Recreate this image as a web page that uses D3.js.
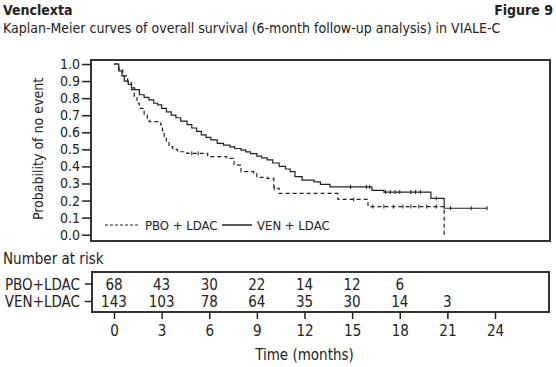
<!DOCTYPE html>
<meta charset="utf-8">
<script src="https://d3js.org/d3.v7.min.js"></script>
<style>
	body{
		margin:0;
		background:#fff;
		font-family:'Liberation Sans Narrow','DejaVu Sans Condensed','Arial Narrow',sans-serif;
	}
	svg text{ fill:#222; }
</style>
<div id="chart"></div>
<script>
	// months at which the number at risk is reported
	var riskTimes = [0,3,6,9,12,15,18,21,24]
	var xTicks = [0,3,6,9,12,15,18,21,24]
	var yTicks = [0,0.1,0.2,0.3,0.4,0.5,0.6,0.7,0.8,0.9,1.0]

	var groups = ["PBO+LDAC","VEN+LDAC"]
	var pboRisk = [68,43,30,22,14,12,6]
	var venRisk = [143,103,78,64,35,30,14,3]

	// KM steps: [months, survival]
	var pboSteps = [[0,1],[0.3,0.97],[0.55,0.93],[0.86,0.89],[1.1,0.85],[1.28,0.81],[1.45,0.77],[1.59,0.74],
		[1.9,0.70],[2.1,0.68],[2.22,0.662],[2.95,0.643],[3.05,0.61],[3.16,0.574],[3.3,0.54],[3.47,0.516],
		[3.7,0.50],[4.0,0.486],[4.6,0.477],[5.9,0.457],[7.1,0.447],[7.56,0.408],[8.0,0.369],[8.8,0.36],
		[9.0,0.336],[9.65,0.33],[10.07,0.272],[10.4,0.242],[14.1,0.207],[16.0,0.165],[20.8,0.0]]
	var venSteps = [[0,1],[0.3,0.96],[0.5,0.93],[0.65,0.90],[0.9,0.88],[1.1,0.86],[1.3,0.85],[1.6,0.82],
		[1.9,0.805],[2.2,0.79],[2.5,0.77],[2.75,0.76],[3.0,0.74],[3.3,0.72],[3.6,0.70],[3.9,0.685],
		[4.2,0.665],[4.6,0.645],[4.9,0.625],[5.2,0.605],[5.5,0.585],[5.8,0.57],[6.1,0.555],[6.5,0.535],
		[6.9,0.525],[7.3,0.515],[7.6,0.505],[8.0,0.495],[8.3,0.485],[8.6,0.475],[9.0,0.46],[9.3,0.45],
		[9.65,0.438],[10.0,0.42],[10.4,0.40],[10.8,0.385],[11.1,0.37],[11.4,0.34],[11.85,0.32],[12.6,0.31],
		[13.0,0.295],[13.6,0.28],[16.25,0.26],[17.0,0.25],[19.96,0.213],[20.8,0.155],[23.5,0.155]]
	var pboCensor = [4.9,5.3,10.1,15.1,16.3,17.0,17.6,18.2,18.7,19.2,19.7,20.3]
	var venCensor = [14.9,15.9,16.1,17.1,17.4,17.7,18.0,18.7,19.0,19.3,20.3,21.2,22.5,23.5]

	var W = 556, H = 367
	var FONT = "'Liberation Sans Narrow','DejaVu Sans Condensed','Arial Narrow',sans-serif"
	var svg = d3.select("#chart").append("svg").attr("width",W).attr("height",H)
		.style("font-family",FONT)

	var x = d3.scaleLinear().domain([0,24]).range([114,495])
	var y = d3.scaleLinear().domain([0,1]).range([234.7,64])

	// titles
	svg.append("text").text("Venclexta").attr("x",3).attr("y",15)
		.attr("font-size",14).attr("font-weight","bold")
	svg.append("text").text("Figure 9").attr("x",553).attr("y",15).attr("text-anchor","end")
		.attr("font-size",14).attr("font-weight","bold")
	svg.append("text").text("Kaplan-Meier curves of overall survival (6-month follow-up analysis) in VIALE-C")
		.attr("x",3).attr("y",33).attr("font-size",14)

	// plot frame
	svg.append("rect").attr("x",91).attr("y",60).attr("width",459).attr("height",181)
		.attr("fill","none").attr("stroke","#333").attr("stroke-width",2)

	var yAxis = d3.axisLeft(y).tickValues(yTicks).tickFormat(d3.format(".1f")).tickSize(9).tickPadding(2)
	var gy = svg.append("g").attr("transform","translate(91,0)").call(yAxis)
	gy.select(".domain").remove()
	gy.selectAll("line").attr("stroke","#222").attr("stroke-width",1.5)
	gy.selectAll("text").attr("font-size",14).style("font-family",FONT).attr("fill","#222")

	svg.append("text").text("Probability of no event")
		.attr("transform","translate(43,149) rotate(-90)").attr("text-anchor","middle")
		.attr("font-size",14)

	var line = d3.line().x(function(d){return x(d[0])}).y(function(d){return y(d[1])}).curve(d3.curveStepAfter)

	svg.append("path").datum(pboSteps).attr("d",line).attr("fill","none")
		.attr("stroke","#222").attr("stroke-width",1.2).attr("stroke-dasharray","4,3")
	svg.append("path").datum(venSteps).attr("d",line).attr("fill","none")
		.attr("stroke","#222").attr("stroke-width",1.2)

	// survival value at t for placing censor marks
	function survAt(steps,t){
		var s = steps[0][1]
		for(var i in steps){ if(steps[i][0]<=t){ s = steps[i][1] } }
		return s
	}
	svg.selectAll(".cp").data(pboCensor).enter().append("line")
		.attr("x1",function(d){return x(d)}).attr("x2",function(d){return x(d)})
		.attr("y1",function(d){return y(survAt(pboSteps,d))-2}).attr("y2",function(d){return y(survAt(pboSteps,d))+2})
		.attr("stroke","#222").attr("stroke-width",1)
	svg.selectAll(".cv").data(venCensor).enter().append("line")
		.attr("x1",function(d){return x(d)}).attr("x2",function(d){return x(d)})
		.attr("y1",function(d){return y(survAt(venSteps,d))-2}).attr("y2",function(d){return y(survAt(venSteps,d))+2})
		.attr("stroke","#222").attr("stroke-width",1)

	// legend
	svg.append("line").attr("x1",105).attr("x2",140).attr("y1",225).attr("y2",225)
		.attr("stroke","#222").attr("stroke-width",1.2).attr("stroke-dasharray","3,2")
	svg.append("text").text("PBO + LDAC").attr("x",145).attr("y",230).attr("font-size",13)
	svg.append("line").attr("x1",222).attr("x2",252).attr("y1",225).attr("y2",225)
		.attr("stroke","#222").attr("stroke-width",1.5)
	svg.append("text").text("VEN + LDAC").attr("x",257).attr("y",230).attr("font-size",13)

	// number at risk table
	svg.append("text").text("Number at risk").attr("x",3).attr("y",264).attr("font-size",15)
	svg.append("rect").attr("x",92).attr("y",272).attr("width",457).attr("height",40)
		.attr("fill","none").attr("stroke","#333").attr("stroke-width",2)

	var rowY = [284,301.5]
	var risks = [pboRisk,venRisk]
	groups.forEach(function(g,i){
		svg.append("text").text(g).attr("x",80).attr("y",rowY[i]+5.5).attr("text-anchor","end").attr("font-size",15)
		svg.append("line").attr("x1",85).attr("x2",92).attr("y1",rowY[i]).attr("y2",rowY[i])
			.attr("stroke","#222").attr("stroke-width",1.5)
		svg.selectAll(".r"+i).data(risks[i]).enter().append("text")
			.text(function(d){return d})
			.attr("x",function(d,j){return x(riskTimes[j])})
			.attr("y",rowY[i]+5.5).attr("text-anchor","middle").attr("font-size",15)
	})

	var xAxis = d3.axisBottom(x).tickValues(xTicks).tickSize(7).tickPadding(6)
	var gx = svg.append("g").attr("transform","translate(0,312)").call(xAxis)
	gx.select(".domain").remove()
	gx.selectAll("line").attr("stroke","#222").attr("stroke-width",1.5)
	gx.selectAll("text").attr("font-size",15).style("font-family",FONT).attr("fill","#222")

	svg.append("text").text("Time (months)").attr("x",x(12)).attr("y",360)
		.attr("text-anchor","middle").attr("font-size",15)
</script>
